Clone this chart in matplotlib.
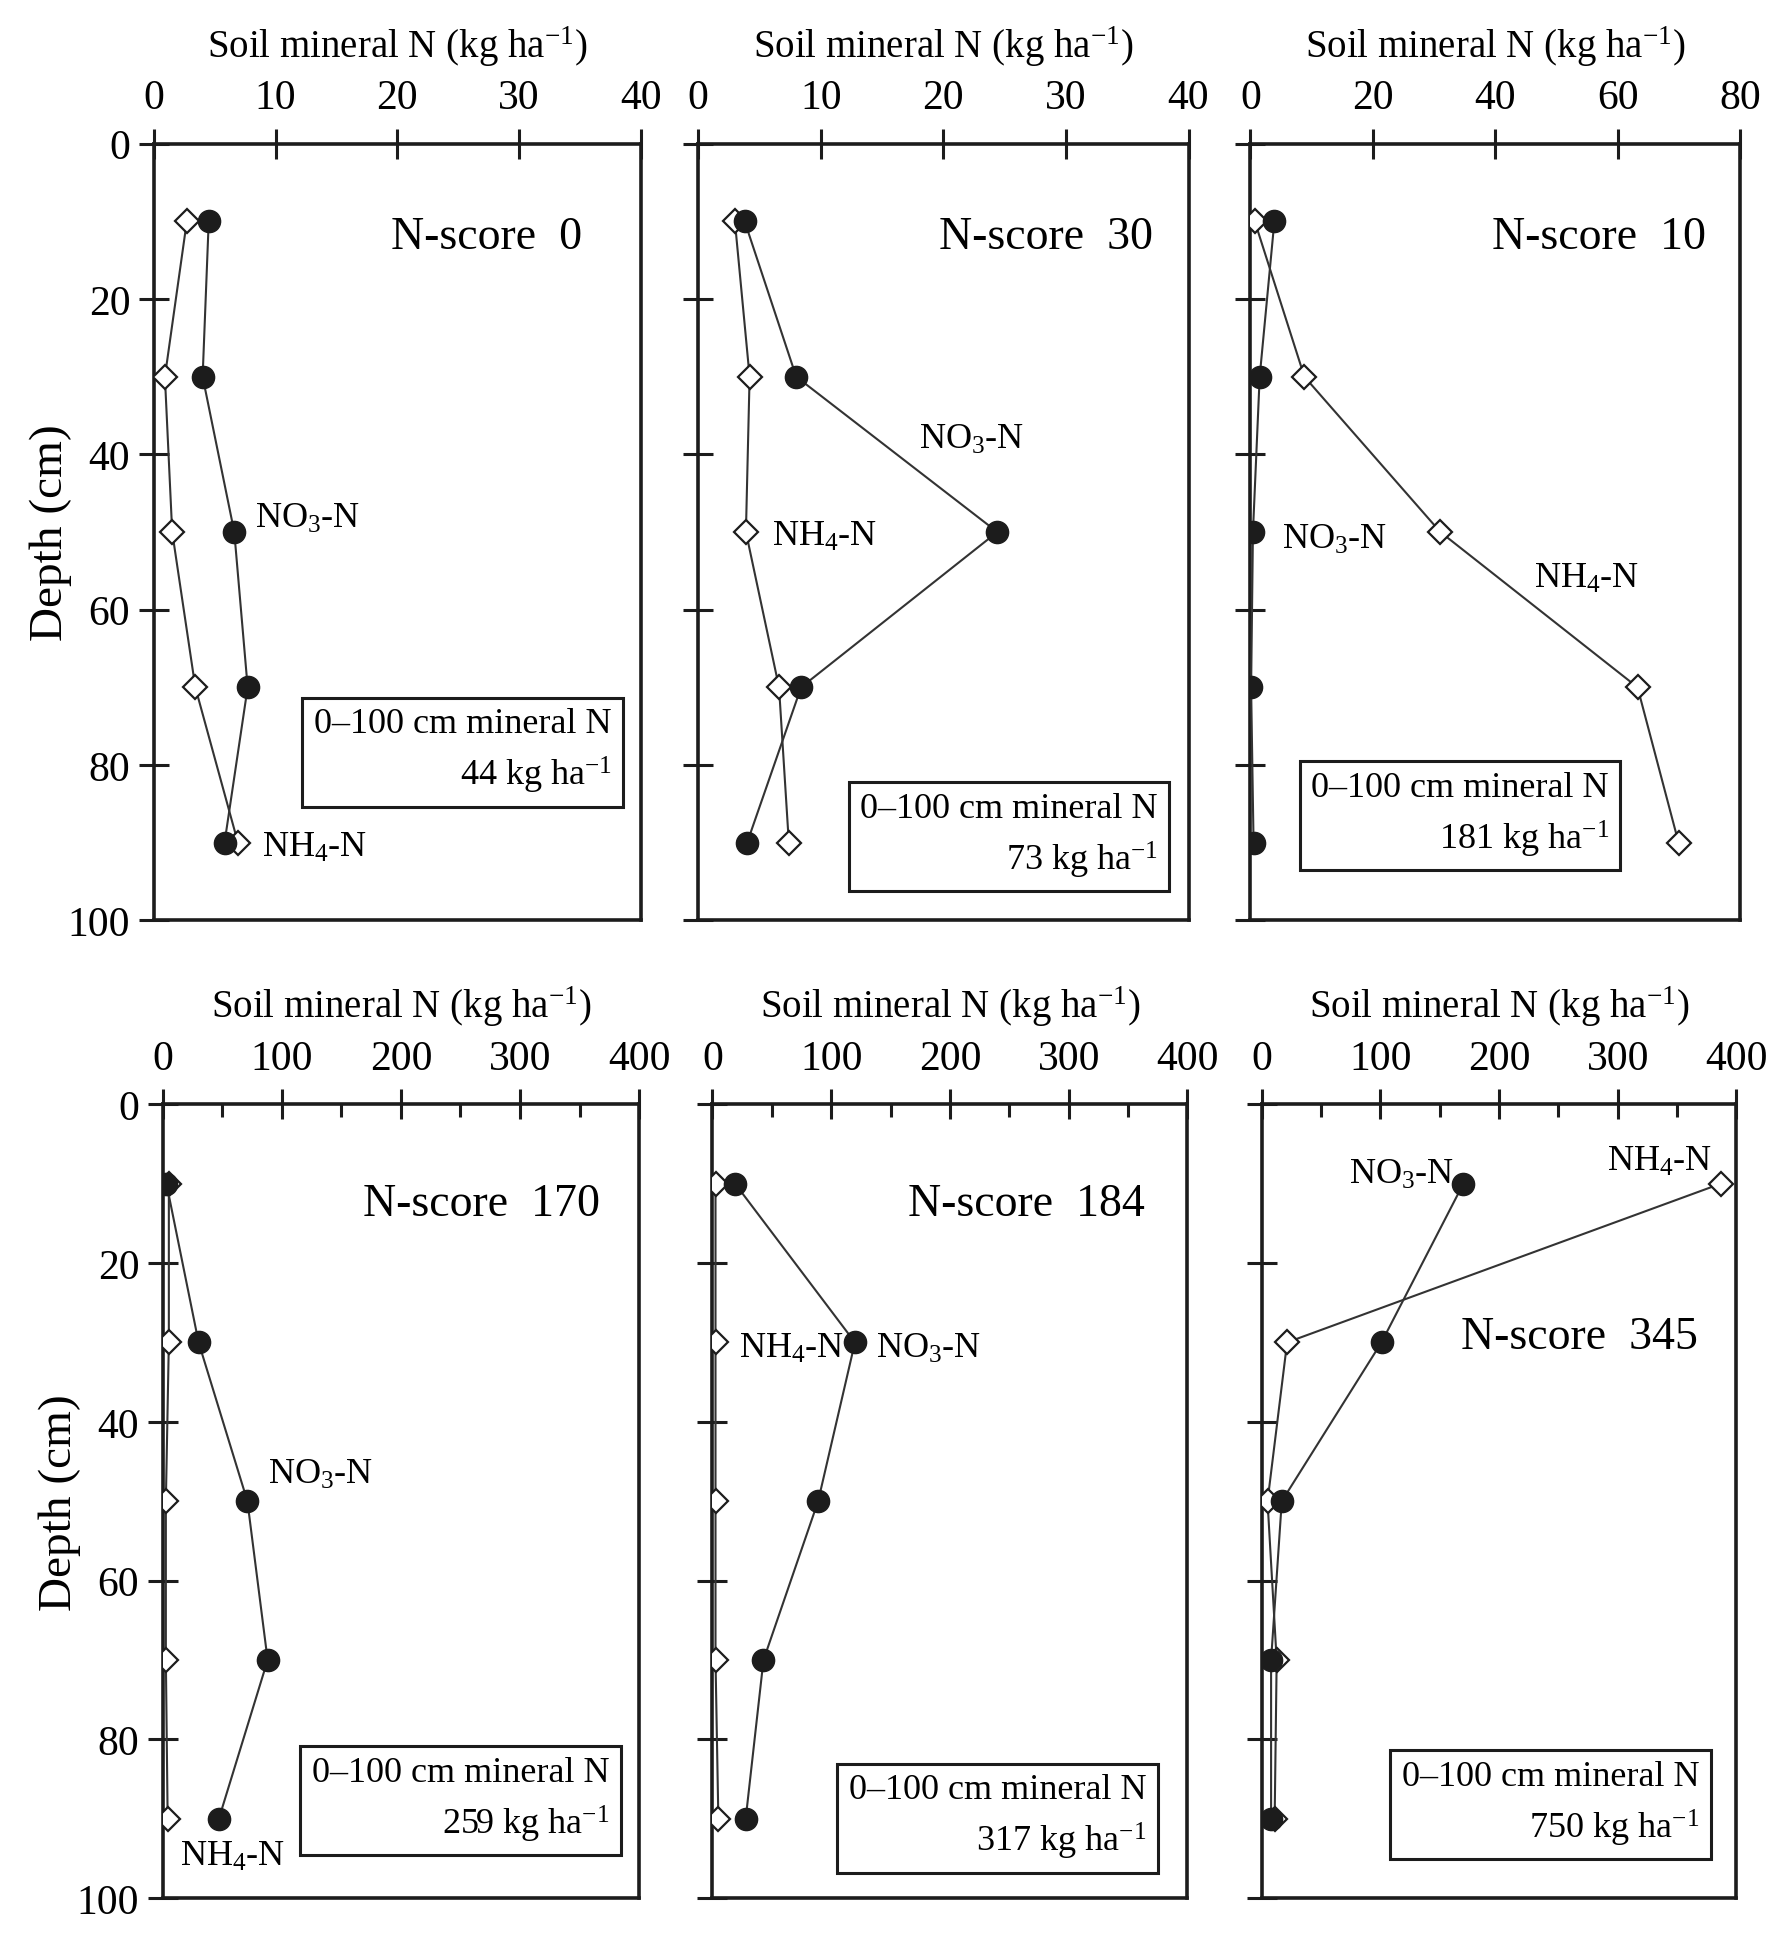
import matplotlib
matplotlib.use("Agg")
import matplotlib.pyplot as plt
from matplotlib.ticker import MultipleLocator

plt.rcParams['font.family'] = ['Liberation Serif', 'DejaVu Serif']
plt.rcParams['mathtext.fontset'] = 'custom'
plt.rcParams['mathtext.rm'] = 'Liberation Serif'
plt.rcParams['mathtext.it'] = 'Liberation Serif:italic'

# sampling depths (cm)
depth = [10, 30, 50, 70, 90]

# NO3-N and NH4-N per layer (kg ha-1)
no3_s0 = [4.5, 4.0, 6.6, 7.7, 5.8]
nh4_s0 = [2.7, 0.9, 1.5, 3.4, 6.9]
no3_s30 = [3.8, 8.0, 24.4, 8.4, 4.0]
nh4_s30 = [3.0, 4.2, 3.9, 6.6, 7.4]
no3_s10 = [3.9, 1.5, 0.4, 0.1, 0.5]
nh4_s10 = [0.7, 8.8, 31.0, 63.2, 69.9]
no3_s170 = [3, 30, 71, 88, 47]
nh4_s170 = [5, 5, 2.5, 2.5, 4]
no3_s184 = [19, 120, 89, 43, 28]
nh4_s184 = [2.6, 2.6, 2.6, 2.6, 5]
no3_s345 = [170, 101, 17, 8, 8]
nh4_s345 = [387, 21.5, 5, 12.7, 11]

scores = ["0", "30", "10", "170", "184", "345"]
totals = ["44", "73", "181", "259", "317", "750"]

xlabel = "Soil mineral N (kg ha$^{-1}$)"
ink = '#1c1c1c'

fig = plt.figure(figsize=(17.9, 19.56), dpi=100)

top_h, top_y = 0.397, 0.529
bot_h, bot_y = 0.406, 0.029
axs = [
    fig.add_axes([0.086, top_y, 0.272, top_h]),
    fig.add_axes([0.390, top_y, 0.274, top_h]),
    fig.add_axes([0.6986, top_y, 0.2737, top_h]),
    fig.add_axes([0.091, bot_y, 0.266, bot_h]),
    fig.add_axes([0.398, bot_y, 0.2654, bot_h]),
    fig.add_axes([0.7048, bot_y, 0.2653, bot_h]),
]


def draw_panel(ax, no3, nh4, xmax, xstep, minor=None, ylabels=False):
    ax.plot(nh4, depth, color='#333333', lw=1.5, marker='D', ms=12,
            mfc='white', mec=ink, mew=1.6, zorder=3)
    ax.plot(no3, depth, color='#333333', lw=1.5, marker='o', ms=16,
            mfc=ink, mec=ink, zorder=4)
    ax.set_xlim(0, xmax)
    ax.set_ylim(100, 0)
    ax.xaxis.set_major_locator(MultipleLocator(xstep))
    ax.yaxis.set_major_locator(MultipleLocator(20))
    if minor:
        ax.xaxis.set_minor_locator(MultipleLocator(minor))
        ax.tick_params(axis='x', which='minor', direction='in', length=9,
                       width=2.2, top=True, bottom=False, color=ink)
    ax.xaxis.set_label_position('top')
    ax.set_xlabel(xlabel, fontsize=28, labelpad=16)
    ax.tick_params(axis='both', which='major', direction='inout', length=22,
                   width=2.2, color=ink, labelsize=30,
                   top=True, bottom=False, labeltop=True, labelbottom=False,
                   left=True, right=False, labelleft=ylabels)
    ax.tick_params(axis='x', which='major', pad=8)
    ax.tick_params(axis='y', which='major', pad=6)
    for sp in ax.spines.values():
        sp.set_linewidth(2.6)
        sp.set_color(ink)
    if ylabels:
        ax.set_ylabel("Depth (cm)", fontsize=34, labelpad=-3)


def box(ax, x, y, total):
    ax.text(x, y, "0\u2013100 cm mineral N\n" + total + " kg ha$^{-1}$",
            fontsize=26, ha='right', va='center', multialignment='right',
            linespacing=1.45, zorder=5,
            bbox=dict(boxstyle='square,pad=0.32', fc='white', ec=ink, lw=2.2))


def score(ax, x, y, s):
    ax.text(x, y, "N-score  " + s, fontsize=33, ha='right', va='center')


no3_txt = "NO$_3$-N"
nh4_txt = "NH$_4$-N"
lab = dict(fontsize=26, va='center')

# N-score 0
ax = axs[0]
draw_panel(ax, no3_s0, nh4_s0, 40, 10, ylabels=True)
score(ax, 35.2, 12, scores[0])
ax.text(8.3, 48.2, no3_txt, ha='left', **lab)
ax.text(8.9, 90.6, nh4_txt, ha='left', **lab)
box(ax, 37.6, 78.2, totals[0])

# N-score 30
ax = axs[1]
draw_panel(ax, no3_s30, nh4_s30, 40, 10)
score(ax, 37.1, 12, scores[1])
ax.text(18.0, 38.1, no3_txt, ha='left', **lab)
ax.text(6.0, 50.6, nh4_txt, ha='left', **lab)
box(ax, 37.5, 89.1, totals[1])

# N-score 10
ax = axs[2]
draw_panel(ax, no3_s10, nh4_s10, 80, 20)
score(ax, 74.3, 12, scores[2])
ax.text(5.1, 50.9, no3_txt, ha='left', **lab)
ax.text(46.3, 56.0, nh4_txt, ha='left', **lab)
box(ax, 58.5, 86.4, totals[2])

# N-score 170
ax = axs[3]
draw_panel(ax, no3_s170, nh4_s170, 400, 100, minor=50, ylabels=True)
score(ax, 367, 12.5, scores[3])
ax.text(88, 46.6, no3_txt, ha='left', **lab)
ax.text(14, 94.7, nh4_txt, ha='left', **lab)
box(ax, 375, 87.6, totals[3])

# N-score 184
ax = axs[4]
draw_panel(ax, no3_s184, nh4_s184, 400, 100, minor=50)
score(ax, 364, 12.5, scores[4])
ax.text(22, 30.7, nh4_txt, ha='left', **lab)
ax.text(138, 30.7, no3_txt, ha='left', **lab)
box(ax, 365.5, 89.8, totals[4])

# N-score 345
ax = axs[5]
draw_panel(ax, no3_s345, nh4_s345, 400, 100, minor=50)
score(ax, 367.5, 29.3, scores[5])
ax.text(162, 8.9, no3_txt, ha='right', **lab)
ax.text(291, 7.2, nh4_txt, ha='left', **lab)
box(ax, 368.6, 88.1, totals[5])

fig.savefig("out.png", dpi=100)
